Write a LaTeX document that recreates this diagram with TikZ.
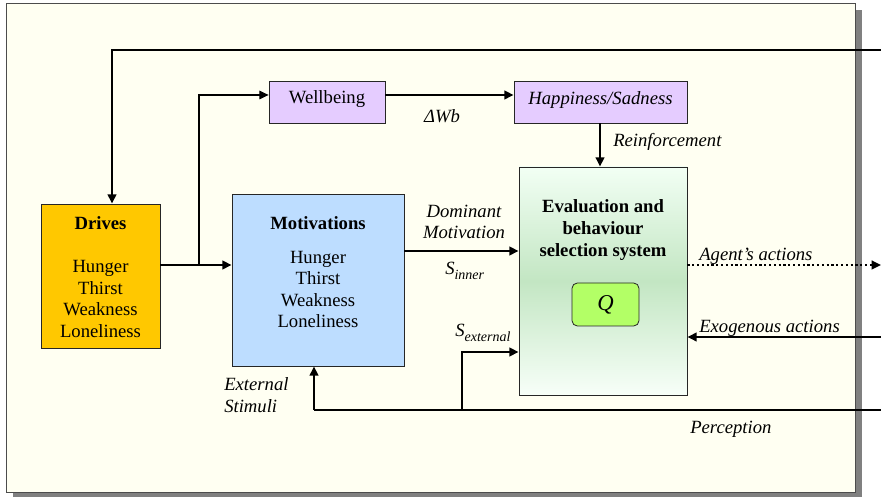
\documentclass[tikz,border=0pt]{standalone}
\usepackage{fontspec}
\setmainfont{Liberation Serif}
\usetikzlibrary{arrows.meta}
\definecolor{framefill}{HTML}{FFFFF2}
\definecolor{shadowgray}{HTML}{808080}
\definecolor{drivesfill}{HTML}{FFC800}
\definecolor{motfill}{HTML}{BDDDFF}
\definecolor{lavender}{HTML}{E5CCFF}
\definecolor{evaltop}{HTML}{F2FFF4}
\definecolor{evalmid}{HTML}{C3E6C3}
\definecolor{qfill}{HTML}{B3FF66}
\begin{document}
\begin{tikzpicture}[x=0.75pt,y=-0.75pt,
  font=\fontsize{14}{16.2}\selectfont,
  box/.style={draw=black!85, line width=0.6pt, inner sep=0pt},
  conn/.style={line width=1.5pt, -{Triangle[length=7pt,width=6.5pt]}},
  thinconn/.style={line width=0.8pt, -{Triangle[length=7pt,width=6.5pt]}},
  lbl/.style={font=\fontsize{14}{16.2}\selectfont\itshape, inner sep=0pt},
  txt/.style={inner sep=0pt, align=center}]
\useasboundingbox (0,0) rectangle (881,498);
% frame with shadow
\fill[shadowgray] (13,10) rectangle (862,497);
\draw[fill=framefill, draw=black!70, line width=0.6pt] (6,3) rectangle (855,492);

% boxes
\node[box, fill=drivesfill, minimum width=89.25pt, minimum height=108pt] (drives) at (100.5,276) {};
\node[box, fill=motfill, minimum width=129pt, minimum height=129pt] (mot) at (318,280) {};
\node[box, fill=lavender, minimum width=87pt, minimum height=31.5pt] (well) at (327,102) {};
\node[box, fill=lavender, minimum width=129.75pt, minimum height=31.5pt] (happy) at (600.5,102) {};
\node[box, top color=evaltop, bottom color=evaltop!60!white, middle color=evalmid, minimum width=126pt, minimum height=171pt] (eval) at (603,281) {};
\node[box, fill=qfill, rounded corners=4pt, minimum width=50.25pt, minimum height=32.25pt] (q) at (605.5,304.5) {\fontsize{17}{17}\selectfont\itshape Q};

% box texts
\node[txt] (drivestxt) at (100.5,277) {\textbf{Drives}\\[16.2pt]Hunger\\Thirst\\Weakness\\Loneliness};
\node[txt] (mottitle) at (318,223) {\textbf{Motivations}};
\node[txt] (motlist) at (318,289.5) {Hunger\\Thirst\\Weakness\\Loneliness};
\node[txt] (welltxt) at (327,99) {Wellbeing};
\node[txt, font=\fontsize{14}{16.2}\selectfont\itshape] (happytxt) at (600.5,100) {Happiness/Sadness};
\node[txt, font=\fontsize{14}{16.5}\selectfont\bfseries] (evaltxt) at (603,230) {Evaluation and\\behaviour\\selection system};

% free ends
\coordinate (topR) at (881,50);
\coordinate (topL) at (112,50);
\coordinate (dm) at (199,265);
\coordinate (wb) at (199,95);
\coordinate (agR) at (881,265);
\coordinate (exR) at (881,337);
\coordinate (botR) at (881,410);
\coordinate (sext) at (462,410);
\coordinate (sextT) at (462,352);
\coordinate (extS) at (314,410);

% connectors
\draw[conn] (topR) -- (topL) -- (topL |- drives.north);
\draw[conn] (drives.east |- dm) -- (mot.west |- dm);
\draw[thinconn] (dm) -- (wb) -- (well.west |- wb);
\draw[conn] (well.east |- wb) -- (happy.west |- wb);
\draw[conn] (happy.south -| 600,0) -- (eval.north -| 600,0);
\draw[conn] (mot.east |- 0,251) -- (eval.west |- 0,251);
\draw[line width=1.5pt] (botR) -- (extS);
\draw[conn] (extS) -- (mot.south -| extS);
\draw[conn] (sext) -- (sextT) -- (eval.west |- sextT);
\draw[line width=1.6pt, dotted, -{Triangle[length=7pt,width=6.5pt]}] (eval.east |- agR) -- (agR);
\draw[conn] (exR) -- (eval.east |- exR);

% labels
\node[lbl] (dwb) at (442,116) {ΔWb};
\node[lbl, anchor=west] (reinf) at (613,142) {Reinforcement};
\node[lbl, align=center] (dom) at (464,222) {Dominant\\Motivation};
\node[lbl, anchor=west] (sinner) at (445,271) {S\raisebox{-3.5pt}{\fontsize{10.5}{10.5}\selectfont inner}};
\node[lbl, anchor=west] (sexternal) at (455,333) {S\raisebox{-3.5pt}{\fontsize{10.5}{10.5}\selectfont external}};
\node[lbl, anchor=west, align=left] (extstim) at (224,395) {External\\Stimuli};
\node[lbl, anchor=west] (agent) at (699,256) {Agent’s actions};
\node[lbl, anchor=west] (exo) at (699,328) {Exogenous actions};
\node[lbl, anchor=west] (perc) at (690,429) {Perception};
\end{tikzpicture}
\end{document}
